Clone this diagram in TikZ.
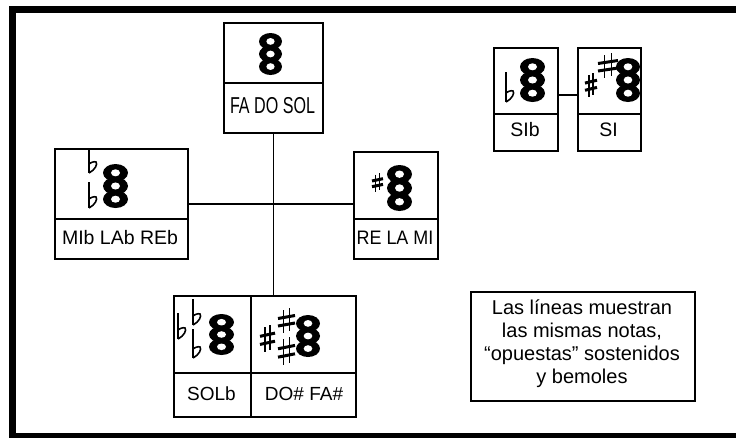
\documentclass[tikz,border=0pt]{standalone}
\usepackage{fontspec}
\setmainfont{Liberation Sans}
\begin{document}
\begin{tikzpicture}[x=1pt,y=-1pt]
\tikzset{
  cell/.style={draw, line width=1.8pt, inner sep=0pt, anchor=north west},
  conn/.style={line width=1.7pt},
  lab/.style={inner sep=0pt, anchor=center},
  noteline/.style={inner sep=0pt, anchor=base, font=\fontsize{20}{20}\selectfont},
}
\newcommand\lbl[3]{\scalebox{#1}[1]{\fontsize{#2}{#2}\selectfont #3}}
\newcommand\drawchord[4]{%
  \pgfmathsetmacro\chW{#3/2}\pgfmathsetmacro\chD{#4*0.3}\pgfmathsetmacro\chR{#4*0.2}%
  \pgfmathsetmacro\chHX{#3*0.18}\pgfmathsetmacro\chHY{#4*0.08}%
  \foreach \k in {-1,0,1}{\fill (#1,{#2+\k*\chD}) ellipse [x radius=\chW pt, y radius=\chR pt];}%
  \foreach \k in {-1,0,1}{\fill[white] (#1,{#2+\k*\chD}) ellipse [x radius=\chHX pt, y radius=\chHY pt];}%
}
\newcommand\drawflat[3]{% x ytop ybot
  \draw[line width=1.7pt] (#1,#2) -- (#1,#3);
  \draw[line width=1.6pt] (#1,#3) .. controls ({#1+6},{#3-3}) and ({#1+9},{#3-9}) .. ({#1+7},{#3-11}) .. controls ({#1+5},{#3-12}) and ({#1+1},{#3-10}) .. (#1,{#3-9});
}
\newcommand\drawsharp[4]{% x0 y0 x1 y1
  \pgfmathsetmacro\shW{#3-#1}\pgfmathsetmacro\shH{#4-#2}%
  \draw[line width=1.6pt] ({#1+0.33*\shW},{#2+0.08*\shH}) -- ({#1+0.33*\shW},#4);
  \draw[line width=1.6pt] ({#1+0.67*\shW},#2) -- ({#1+0.67*\shW},{#4-0.08*\shH});
  \draw[line width=3pt] (#1,{#2+0.42*\shH}) -- (#3,{#2+0.30*\shH});
  \draw[line width=3pt] (#1,{#2+0.72*\shH}) -- (#3,{#2+0.60*\shH});
}
\useasboundingbox (0,0) rectangle (736,437);
\begin{scope}
\clip (0,0) rectangle (736,437);
\draw[line width=7pt] (12,9) rectangle (745,436);
\end{scope}
% boxes
\node[cell, minimum width=99pt, minimum height=60pt] (top) at (223,22) {};
\node[cell, minimum width=99pt, minimum height=50pt] (toplab) at (223,82) {};
\node[cell, minimum width=133pt, minimum height=70pt] (left) at (54,148) {};
\node[cell, minimum width=133pt, minimum height=40pt] (leftlab) at (54,218) {};
\node[cell, minimum width=84pt, minimum height=67pt] (right) at (353,151) {};
\node[cell, minimum width=84pt, minimum height=40pt] (rightlab) at (353,218) {};
\node[cell, minimum width=77pt, minimum height=77pt] (botl) at (173,295) {};
\node[cell, minimum width=77pt, minimum height=44pt] (botllab) at (173,372) {};
\node[cell, minimum width=105pt, minimum height=77pt] (botr) at (250,295) {};
\node[cell, minimum width=105pt, minimum height=44pt] (botrlab) at (250,372) {};
\node[cell, minimum width=64pt, minimum height=66pt] (sib) at (493,47) {};
\node[cell, minimum width=64pt, minimum height=37pt] (siblab) at (493,113) {};
\node[cell, minimum width=63pt, minimum height=66pt] (si) at (577,47) {};
\node[cell, minimum width=63pt, minimum height=37pt] (silab) at (577,113) {};
\node[cell, minimum width=224pt, minimum height=109pt] (note) at (470,291) {};
% labels
\node[lab] (t1) at (272.5,106) {\lbl{0.70}{23}{FA DO SOL}};
\node[lab] (t2) at (120,238) {\lbl{1}{19.5}{MIb LAb REb}};
\node[lab] (t3) at (395,238) {\lbl{0.92}{19.5}{RE LA MI}};
\node[lab] (t4) at (211.5,394) {\lbl{1}{19}{SOLb}};
\node[lab] (t5) at (304,394) {\lbl{1}{19}{DO\# FA\#}};
\node[lab] (t6) at (525,130) {\lbl{1}{19.5}{SIb}};
\node[lab] (t7) at (608.5,130) {\lbl{1}{19.5}{SI}};
\node[noteline] (n1) at (582,314) {Las líneas muestran};
\node[noteline] (n2) at (582,337) {las mismas notas,};
\node[noteline] (n3) at (582,360) {“opuestas” sostenidos};
\node[noteline] (n4) at (582,383) {y bemoles};
% connectors
\coordinate (cross) at (272.5,204);
\coordinate (sj) at (567,95);
\draw[conn] (toplab.south) -- (toplab.south |- botl.north);
\draw[conn] (cross -| left.east) -- (cross -| right.west);
\draw[conn] (sj -| sib.east) -- (sj -| si.west);
% chords
\drawchord{270.5}{54}{23}{42}
\drawchord{115.5}{186}{25}{44}
\drawflat{89}{149}{173}
\drawflat{89}{182}{208}
\drawsharp{372}{173}{383}{192}
\drawchord{399.5}{188}{25}{46}
\drawchord{221.5}{334.5}{25}{41}
\drawflat{178}{313}{339}
\drawflat{193}{299}{325}
\drawflat{193}{329}{358}
\drawchord{308}{336}{24}{42}
\drawsharp{260}{325}{275}{352}
\drawsharp{278}{308}{295}{333}
\drawsharp{278}{337}{295}{365}
\drawchord{532.5}{80}{25}{44}
\drawflat{506}{72}{102}
\drawsharp{585}{73}{597}{97}
\drawsharp{598}{53}{618}{78}
\drawchord{628}{80}{24}{44}
\end{tikzpicture}
\end{document}
